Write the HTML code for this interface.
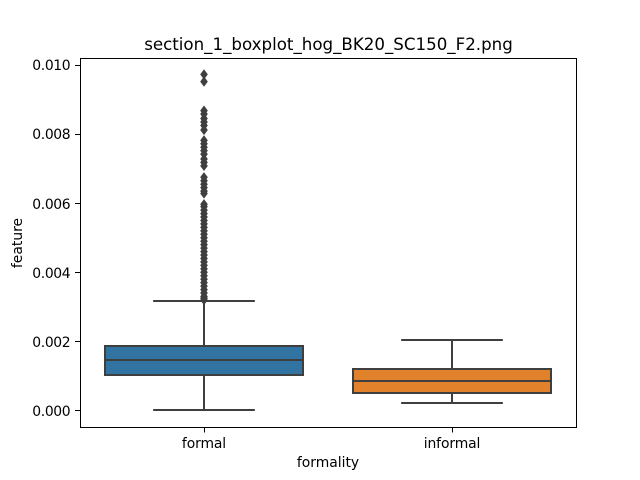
<!DOCTYPE html>
<html>
<head>
<meta charset="utf-8">
<style>
html,body{margin:0;padding:0;background:#fff;width:640px;height:480px;overflow:hidden}
svg{display:block}
text{font-family:"DejaVu Sans",sans-serif;fill:#000}
</style>
</head>
<body>
<svg id="chart" xmlns="http://www.w3.org/2000/svg" width="640" height="480" viewBox="0 0 640 480"></svg>
<script>
const categories = ['formal', 'informal'];
const q1Values = [0.00104, 0.00051];
const medianValues = [0.00146, 0.00085];
const q3Values = [0.00187, 0.00120];
const whiskerLowValues = [0.00001, 0.00022];
const whiskerHighValues = [0.00317, 0.00204];
const formalFliers = [0.00973, 0.00952, 0.00868, 0.00858, 0.00845, 0.00835, 0.00825, 0.00812,
  0.00782, 0.00772, 0.00762, 0.00752, 0.00742, 0.00728, 0.00718, 0.00708,
  0.00675, 0.00665, 0.00655, 0.00645, 0.00635, 0.00628,
  0.00597, 0.00590, 0.00580, 0.00570, 0.00560, 0.00550, 0.00540, 0.00530, 0.00520, 0.00510, 0.00500,
  0.00490, 0.00480, 0.00470, 0.00460, 0.00450, 0.00440, 0.00430, 0.00420, 0.00410, 0.00400,
  0.00390, 0.00380, 0.00370, 0.00360, 0.00350, 0.00340, 0.00330, 0.00325, 0.00320];
const informalFliers = [];
const flierValues = [formalFliers, informalFliers];
const yTickValues = [0, 0.002, 0.004, 0.006, 0.008, 0.010];
const yTickLabels = ['0.000', '0.002', '0.004', '0.006', '0.008', '0.010'];
const boxColors = ['#3274a1', '#e1812c'];

const svg = document.getElementById('chart');
const NS = 'http://www.w3.org/2000/svg';
const LINE = '#3f3f3f';
const axisLeft = 80, axisRight = 576;
const frameLeft = 80.5, frameRight = 576.5, frameTop = 58.5, frameBottom = 427.5;

function yScale(v) { return 410.5 - v * 34550; }
function ySnap(v) { return Math.round(yScale(v)); }
function xScale(i) { return axisLeft + (axisRight - axisLeft) * (i + 0.5) / categories.length; }
const bandWidth = (axisRight - axisLeft) / categories.length;

function make(tag, attrs, text) {
  const el = document.createElementNS(NS, tag);
  for (const k in attrs) el.setAttribute(k, attrs[k]);
  if (text !== undefined) el.textContent = text;
  svg.appendChild(el);
  return el;
}

categories.forEach(function (cat, i) {
  const cx = xScale(i);
  const halfBox = bandWidth * 0.4 - 0.2;
  const halfCap = bandWidth * 0.205;

  const wl = make('line', {x1: cx, x2: cx, y1: ySnap(q1Values[i]), y2: ySnap(whiskerLowValues[i]), stroke: LINE, 'stroke-width': 2});
  
  

  const wh = make('line', {x1: cx, x2: cx, y1: ySnap(q3Values[i]), y2: ySnap(whiskerHighValues[i]), stroke: LINE, 'stroke-width': 2});
  
  

  const cl = make('line', {x1: cx - halfCap, x2: cx + halfCap, y1: ySnap(whiskerLowValues[i]), y2: ySnap(whiskerLowValues[i]), stroke: LINE, 'stroke-width': 2});
  
  

  const ch = make('line', {x1: cx - halfCap, x2: cx + halfCap, y1: ySnap(whiskerHighValues[i]), y2: ySnap(whiskerHighValues[i]), stroke: LINE, 'stroke-width': 2});
  
  

  const box = make('rect', {x: cx - halfBox, width: halfBox * 2, y: ySnap(q3Values[i]), height: ySnap(q1Values[i]) - ySnap(q3Values[i]), fill: boxColors[i], stroke: LINE, 'stroke-width': 2});
  
  

  const med = make('line', {x1: cx - halfBox, x2: cx + halfBox, y1: ySnap(medianValues[i]), y2: ySnap(medianValues[i]), stroke: LINE, 'stroke-width': 2});
  
  

  flierValues[i].forEach(function (v) {
    const y = yScale(v);
    const pts = [[cx, y - 4.3], [cx + 3.2, y], [cx, y + 4.3], [cx - 3.2, y]].map(function (p) { return p.join(','); }).join(' ');
    const f = make('polygon', {points: pts, fill: LINE, stroke: LINE, 'stroke-width': 1});
    
    
  });

  const tick = make('line', {x1: cx + 0.5, x2: cx + 0.5, y1: frameBottom, y2: frameBottom + 5, stroke: '#000', 'stroke-width': 1});
  
  

  const lab = make('text', {x: cx, y: 448, 'text-anchor': 'middle', 'font-size': '13.9px', 'letter-spacing': '-0.1px'}, cat);
  
  
});

yTickValues.forEach(function (v, i) {
  const y = Math.floor(yScale(v)) + 0.5;
  const tick = make('line', {x1: frameLeft - 5.5, x2: frameLeft, y1: y, y2: y, stroke: '#000', 'stroke-width': 1});
  
  

  const lab = make('text', {x: 70.3, y: Math.round(yScale(v) + 5.4), 'text-anchor': 'end', 'font-size': '13.9px', 'letter-spacing': '-0.35px'}, yTickLabels[i]);
  
  
});

const frame = make('rect', {x: frameLeft, y: frameTop, width: frameRight - frameLeft, height: frameBottom - frameTop, fill: 'none', stroke: '#000', 'stroke-width': 1});



const title = make('text', {x: 328.5, y: 50, 'text-anchor': 'middle', 'font-size': '16.67px'}, 'section_1_boxplot_hog_BK20_SC150_F2.png');



const xTitle = make('text', {x: 328, y: 467, 'text-anchor': 'middle', 'font-size': '13.9px'}, 'formality');



const yTitle = make('text', {x: 22, y: 243, 'text-anchor': 'middle', 'font-size': '13.9px', transform: 'rotate(-90 22 243)'}, 'feature');


</script>
</body>
</html>
